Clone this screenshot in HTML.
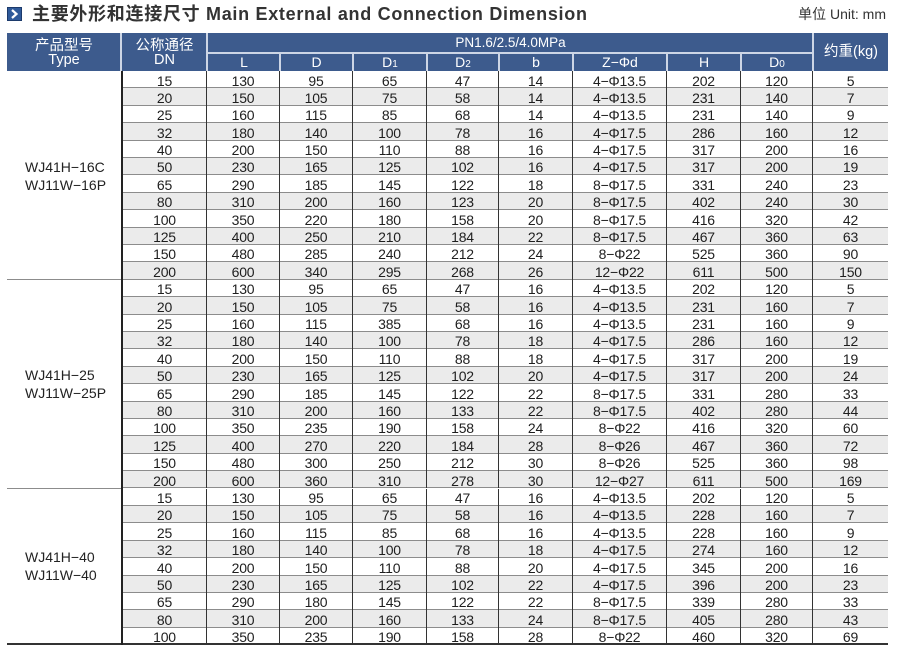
<!DOCTYPE html>
<html><head><meta charset="utf-8">
<style>
html,body{margin:0;padding:0;background:#fff;}
body{width:900px;height:654px;position:relative;overflow:hidden;font-family:"Liberation Sans","Noto Sans CJK SC",sans-serif;color:#1e1e1e;}
.title{position:absolute;left:32px;top:5px;font-size:18px;line-height:18px;font-weight:bold;color:#333;letter-spacing:0.7px;white-space:nowrap;}
.icon{position:absolute;left:7px;top:7px;width:15px;height:14px;}
.unit{position:absolute;right:14px;top:6px;font-size:14px;line-height:16px;color:#333;white-space:nowrap;}
.hd{position:absolute;left:7px;top:33px;width:881px;height:38px;background:#3d5b8d;color:#fff;font-size:14px;}
.hd div{position:absolute;text-align:center;}
.vl{background:#cdd6e6;}
.sub{top:20px;height:18px;line-height:18px;font-size:14px;}
.sub small{font-size:10px;}
.tb{position:absolute;left:7px;top:71px;width:881px;}
.grp{display:flex;}
.ty{width:114px;box-sizing:border-box;border-bottom:1px solid #8c8c8c;display:flex;flex-direction:column;justify-content:center;padding-left:18px;font-size:14px;line-height:18px;color:#222;}
.dat{width:767px;box-sizing:border-box;border-left:2px solid #222;}
.r{display:flex;height:17.4px;box-sizing:border-box;border-bottom:1px solid #8c8c8c;font-size:14px;letter-spacing:-0.2px;}
.r.g{background:#ebebeb;}
.r span{display:block;box-sizing:border-box;border-right:1px solid #333;text-align:center;line-height:16px;padding-top:1.5px;height:17.4px;white-space:nowrap;}
.r span:nth-child(1){width:84px}
.r span:nth-child(2){width:73px}
.r span:nth-child(3){width:73px}
.r span:nth-child(4){width:74px}
.r span:nth-child(5){width:72px}
.r span:nth-child(6){width:74px}
.r span:nth-child(7){width:94px}
.r span:nth-child(8){width:74px}
.r span:nth-child(9){width:72px}
.r span:nth-child(10){width:75px;border-right:none}
.last .r:last-child{border-bottom:2px solid #333;}
.last .ty{border-bottom:2px solid #333;}
</style></head><body>
<svg class="icon" viewBox="0 0 15 14"><rect x="0.5" y="0.5" width="14" height="13" fill="#2f5a9a" stroke="#1c3a6b"/><path d="M5 3 L9.5 7 L5 11" fill="none" stroke="#fff" stroke-width="2.2"/></svg>
<div class="title">主要外形和连接尺寸 Main External and Connection Dimension</div>
<div class="unit">单位 Unit: mm</div>

<div class="hd">
  <div style="left:0;top:0;width:114px;height:38px;line-height:13.5px;padding-top:7px;box-sizing:border-box;font-size:14.5px;">产品型号<br>Type</div>
  <div class="vl" style="left:113px;top:0;width:2px;height:38px;"></div>
  <div style="left:115px;top:0;width:85px;height:38px;line-height:13.5px;padding-top:7px;box-sizing:border-box;font-size:14.5px;">公称通径<br>DN</div>
  <div class="vl" style="left:199px;top:0;width:2px;height:38px;"></div>
  <div style="left:201px;top:0;width:605px;height:19px;line-height:19px;font-size:13.5px;">PN1.6/2.5/4.0MPa</div>
  <div class="vl" style="left:201px;top:19px;width:605px;height:1.5px;"></div>
  <div class="vl" style="left:805px;top:0;width:2px;height:38px;"></div>
  <div style="left:807px;top:0;width:74px;height:38px;line-height:38px;font-size:14.5px;">约重(kg)</div>
  <div class="sub" style="left:201px;width:72px;">L</div>
  <div class="vl" style="left:272px;top:20px;width:1.5px;height:18px;"></div>
  <div class="sub" style="left:273px;width:73px;">D</div>
  <div class="vl" style="left:345px;top:20px;width:1.5px;height:18px;"></div>
  <div class="sub" style="left:346px;width:74px;">D<small>1</small></div>
  <div class="vl" style="left:419px;top:20px;width:1.5px;height:18px;"></div>
  <div class="sub" style="left:420px;width:72px;">D<small>2</small></div>
  <div class="vl" style="left:491px;top:20px;width:1.5px;height:18px;"></div>
  <div class="sub" style="left:492px;width:74px;">b</div>
  <div class="vl" style="left:565px;top:20px;width:1.5px;height:18px;"></div>
  <div class="sub" style="left:566px;width:94px;">Z−Φd</div>
  <div class="vl" style="left:659px;top:20px;width:1.5px;height:18px;"></div>
  <div class="sub" style="left:660px;width:74px;">H</div>
  <div class="vl" style="left:733px;top:20px;width:1.5px;height:18px;"></div>
  <div class="sub" style="left:734px;width:72px;">D<small>0</small></div>
</div>

<div class="tb">
 <div class="grp">
  <div class="ty" style="height:208.8px;padding-top:3px;">WJ41H−16C<br>WJ11W−16P</div>
  <div class="dat">
   <div class="r"><span>15</span><span>130</span><span>95</span><span>65</span><span>47</span><span>14</span><span>4−Φ13.5</span><span>202</span><span>120</span><span>5</span></div>
   <div class="r g"><span>20</span><span>150</span><span>105</span><span>75</span><span>58</span><span>14</span><span>4−Φ13.5</span><span>231</span><span>140</span><span>7</span></div>
   <div class="r"><span>25</span><span>160</span><span>115</span><span>85</span><span>68</span><span>14</span><span>4−Φ13.5</span><span>231</span><span>140</span><span>9</span></div>
   <div class="r g"><span>32</span><span>180</span><span>140</span><span>100</span><span>78</span><span>16</span><span>4−Φ17.5</span><span>286</span><span>160</span><span>12</span></div>
   <div class="r"><span>40</span><span>200</span><span>150</span><span>110</span><span>88</span><span>16</span><span>4−Φ17.5</span><span>317</span><span>200</span><span>16</span></div>
   <div class="r g"><span>50</span><span>230</span><span>165</span><span>125</span><span>102</span><span>16</span><span>4−Φ17.5</span><span>317</span><span>200</span><span>19</span></div>
   <div class="r"><span>65</span><span>290</span><span>185</span><span>145</span><span>122</span><span>18</span><span>8−Φ17.5</span><span>331</span><span>240</span><span>23</span></div>
   <div class="r g"><span>80</span><span>310</span><span>200</span><span>160</span><span>123</span><span>20</span><span>8−Φ17.5</span><span>402</span><span>240</span><span>30</span></div>
   <div class="r"><span>100</span><span>350</span><span>220</span><span>180</span><span>158</span><span>20</span><span>8−Φ17.5</span><span>416</span><span>320</span><span>42</span></div>
   <div class="r g"><span>125</span><span>400</span><span>250</span><span>210</span><span>184</span><span>22</span><span>8−Φ17.5</span><span>467</span><span>360</span><span>63</span></div>
   <div class="r"><span>150</span><span>480</span><span>285</span><span>240</span><span>212</span><span>24</span><span>8−Φ22</span><span>525</span><span>360</span><span>90</span></div>
   <div class="r g"><span>200</span><span>600</span><span>340</span><span>295</span><span>268</span><span>26</span><span>12−Φ22</span><span>611</span><span>500</span><span>150</span></div>
  </div>
 </div>
 <div class="grp">
  <div class="ty" style="height:208.8px;">WJ41H−25<br>WJ11W−25P</div>
  <div class="dat">
   <div class="r"><span>15</span><span>130</span><span>95</span><span>65</span><span>47</span><span>16</span><span>4−Φ13.5</span><span>202</span><span>120</span><span>5</span></div>
   <div class="r g"><span>20</span><span>150</span><span>105</span><span>75</span><span>58</span><span>16</span><span>4−Φ13.5</span><span>231</span><span>160</span><span>7</span></div>
   <div class="r"><span>25</span><span>160</span><span>115</span><span>385</span><span>68</span><span>16</span><span>4−Φ13.5</span><span>231</span><span>160</span><span>9</span></div>
   <div class="r g"><span>32</span><span>180</span><span>140</span><span>100</span><span>78</span><span>18</span><span>4−Φ17.5</span><span>286</span><span>160</span><span>12</span></div>
   <div class="r"><span>40</span><span>200</span><span>150</span><span>110</span><span>88</span><span>18</span><span>4−Φ17.5</span><span>317</span><span>200</span><span>19</span></div>
   <div class="r g"><span>50</span><span>230</span><span>165</span><span>125</span><span>102</span><span>20</span><span>4−Φ17.5</span><span>317</span><span>200</span><span>24</span></div>
   <div class="r"><span>65</span><span>290</span><span>185</span><span>145</span><span>122</span><span>22</span><span>8−Φ17.5</span><span>331</span><span>280</span><span>33</span></div>
   <div class="r g"><span>80</span><span>310</span><span>200</span><span>160</span><span>133</span><span>22</span><span>8−Φ17.5</span><span>402</span><span>280</span><span>44</span></div>
   <div class="r"><span>100</span><span>350</span><span>235</span><span>190</span><span>158</span><span>24</span><span>8−Φ22</span><span>416</span><span>320</span><span>60</span></div>
   <div class="r g"><span>125</span><span>400</span><span>270</span><span>220</span><span>184</span><span>28</span><span>8−Φ26</span><span>467</span><span>360</span><span>72</span></div>
   <div class="r"><span>150</span><span>480</span><span>300</span><span>250</span><span>212</span><span>30</span><span>8−Φ26</span><span>525</span><span>360</span><span>98</span></div>
   <div class="r g"><span>200</span><span>600</span><span>360</span><span>310</span><span>278</span><span>30</span><span>12−Φ27</span><span>611</span><span>500</span><span>169</span></div>
  </div>
 </div>
 <div class="grp last">
  <div class="ty" style="height:156.6px;">WJ41H−40<br>WJ11W−40</div>
  <div class="dat">
   <div class="r"><span>15</span><span>130</span><span>95</span><span>65</span><span>47</span><span>16</span><span>4−Φ13.5</span><span>202</span><span>120</span><span>5</span></div>
   <div class="r g"><span>20</span><span>150</span><span>105</span><span>75</span><span>58</span><span>16</span><span>4−Φ13.5</span><span>228</span><span>160</span><span>7</span></div>
   <div class="r"><span>25</span><span>160</span><span>115</span><span>85</span><span>68</span><span>16</span><span>4−Φ13.5</span><span>228</span><span>160</span><span>9</span></div>
   <div class="r g"><span>32</span><span>180</span><span>140</span><span>100</span><span>78</span><span>18</span><span>4−Φ17.5</span><span>274</span><span>160</span><span>12</span></div>
   <div class="r"><span>40</span><span>200</span><span>150</span><span>110</span><span>88</span><span>20</span><span>4−Φ17.5</span><span>345</span><span>200</span><span>16</span></div>
   <div class="r g"><span>50</span><span>230</span><span>165</span><span>125</span><span>102</span><span>22</span><span>4−Φ17.5</span><span>396</span><span>200</span><span>23</span></div>
   <div class="r"><span>65</span><span>290</span><span>180</span><span>145</span><span>122</span><span>22</span><span>8−Φ17.5</span><span>339</span><span>280</span><span>33</span></div>
   <div class="r g"><span>80</span><span>310</span><span>200</span><span>160</span><span>133</span><span>24</span><span>8−Φ17.5</span><span>405</span><span>280</span><span>43</span></div>
   <div class="r"><span>100</span><span>350</span><span>235</span><span>190</span><span>158</span><span>28</span><span>8−Φ22</span><span>460</span><span>320</span><span>69</span></div>
  </div>
 </div>
</div>
</body></html>
